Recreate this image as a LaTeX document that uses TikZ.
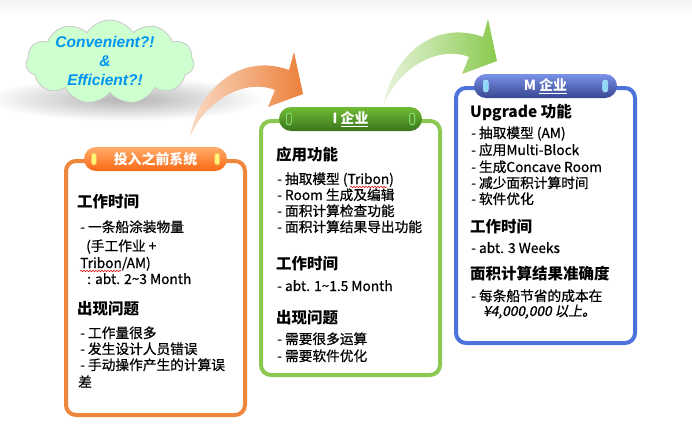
\documentclass[tikz,border=0pt]{standalone}
\usepackage{fontspec}
\newfontfamily\cjk{Noto Sans CJK SC}
\newfontfamily\cjkm[FakeBold=0.7]{Noto Sans CJK SC}
\newfontfamily\cjkit[FakeSlant=0.2,FakeBold=0.7]{Noto Sans CJK SC}
\setsansfont{Liberation Sans}
\usetikzlibrary{shapes.symbols,decorations.pathmorphing}
\definecolor{orangeB}{RGB}{238,134,60}
\definecolor{greenB}{RGB}{140,200,80}
\definecolor{blueB}{RGB}{78,114,219}
\definecolor{pillOt}{RGB}{255,172,105}
\definecolor{pillOb}{RGB}{250,105,20}
\definecolor{pillGt}{RGB}{112,188,52}
\definecolor{pillGb}{RGB}{58,118,30}
\definecolor{pillBt}{RGB}{122,146,232}
\definecolor{pillBb}{RGB}{55,70,145}
\definecolor{cloudG}{RGB}{206,255,206}
\definecolor{cloudT}{RGB}{0,150,240}
\definecolor{arrOl}{RGB}{250,218,195}
\definecolor{arrOr}{RGB}{236,128,58}
\definecolor{arrGl}{RGB}{232,244,220}
\definecolor{arrGr}{RGB}{138,202,78}
\tikzset{
  box/.style={draw, line width=4pt, rounded corners=10pt, fill=white, minimum width=179pt, inner sep=0pt},
  pill/.style={rounded corners=12pt, minimum width=143pt, minimum height=24pt, inner sep=0pt,
     text=white, font=\cjk\bfseries\fontsize{13.9}{16}\selectfont},
  tab/.style={rounded corners=2.5pt, minimum width=5pt, minimum height=12pt, inner sep=0pt, line width=0.6pt},
  head/.style={anchor=base west, inner sep=0pt, font=\cjk\bfseries\fontsize{15.5}{18}\selectfont},
  item/.style={anchor=base west, inner sep=0pt, font=\cjkm\fontsize{13.7}{16}\selectfont},
  squig/.style={draw=red!85!black, line width=0.5pt, decorate, decoration={snake, amplitude=0.8pt, segment length=3pt}},
}
\begin{document}
\begin{tikzpicture}[x=1pt,y=-1pt]
\useasboundingbox (0,0) rectangle (692,423);
\fill[white] (0,0) rectangle (692,423);
\shade[top color=black!5, bottom color=white] (0,0) rectangle (692,16);
% cloud shadow
\shade[inner color=black!30, outer color=white] (125,99) ellipse (140 and 22);
% cloud
\node[cloud, cloud puffs=11, cloud puff arc=115, aspect=2.1, minimum width=168pt, minimum height=84pt,
      fill=cloudG, draw=black!22, line width=0.8pt] (cloud) at (110,62) {};
\node[align=center, text=cloudT, font=\sffamily\bfseries\itshape\fontsize{15.5}{19}\selectfont, inner sep=0pt]
   (cloudtxt) at (105,61) {Convenient?!\\\&\\Efficient?!};
% orange curved arrow
\shade[left color=arrOl, right color=arrOr]
  (190,137) .. controls (198,90) and (240,52) .. (289,70) -- (294,52) -- (303,94) -- (268,107)
  -- (275,90) .. controls (245,78) and (205,100) .. (190,137) -- cycle;
% green curved arrow
\begin{scope}[shift={(194pt,33pt)}]
\shade[left color=arrGl, right color=arrGr]
  (190,137) .. controls (198,90) and (240,52) .. (289,70) -- (294,52) -- (303,94) -- (268,107)
  -- (275,90) .. controls (245,78) and (205,100) .. (190,137) -- cycle;
\end{scope}
% boxes
\node[box, draw=orangeB, minimum height=254pt] (box1) at (155.5,288) {};
\node[box, draw=greenB, minimum height=254pt] (box2) at (350.5,248) {};
\node[box, draw=blueB, minimum height=255pt] (box3) at (545.5,215.5) {};
% pills
\node[pill, top color=pillOt, bottom color=pillOb] (pill1) at (box1.north) {投入之前系统};
\node[pill, top color=pillGt, bottom color=pillGb] (pill2) at (box2.north) {I \underline{企业}};
\node[pill, top color=pillBt, bottom color=pillBb] (pill3) at (box3.north) {M \underline{企业}};
\node[tab, fill=yellow!55, draw=orange!60] (t1a) at ([xshift=10pt]pill1.west) {};
\node[tab, fill=yellow!55, draw=orange!60] (t1b) at ([xshift=-10pt]pill1.east) {};
\node[tab, fill=pillGt!80!black, draw=green!45!white] (t2a) at ([xshift=10pt]pill2.west) {};
\node[tab, fill=pillGt!80!black, draw=green!45!white] (t2b) at ([xshift=-10pt]pill2.east) {};
\node[tab, fill=cyan!45!white, draw=cyan!30!white] (t3a) at ([xshift=12pt]pill3.west) {};
\node[tab, fill=cyan!45!white, draw=cyan!30!white] (t3b) at ([xshift=-12pt]pill3.east) {};
% box 1 text
\node[head] (b1h1) at (77,207) {工作时间};
\node[item] (b1a) at (80,232) {- 一条船涂装物量};
\node[item] (b1b) at (86,251) {(手工作业 +};
\node[item] (b1c) at (80,268) {Tribon/AM)};
\node[item] (b1d) at (87,284) {: abt. 2\textasciitilde3 Month};
\node[head] (b1h2) at (77,314) {出现问题};
\node[item] (b1e) at (80,338) {- 工作量很多};
\node[item] (b1f) at (80,354) {- 发生设计人员错误};
\node[item] (b1g) at (80,370) {- 手动操作产生的计算误};
\node[item] (b1h) at (78,387) {差};
\path[squig] (80,271) -- (121,271);
% box 2 text
\node[head] (b2h1) at (276,160) {应用功能};
\node[item] (b2a) at (277,184) {- 抽取模型 (Tribon)};
\node[item] (b2b) at (277,200) {- Room 生成及编辑};
\node[item] (b2c) at (277,216) {- 面积计算检查功能};
\node[item] (b2d) at (277,232) {- 面积计算结果导出功能};
\node[head] (b2h2) at (276,269) {工作时间};
\node[item] (b2e) at (277,291) {- abt. 1\textasciitilde1.5 Month};
\node[head] (b2h3) at (276,323) {出现问题};
\node[item] (b2f) at (277,344) {- 需要很多运算};
\node[item] (b2g) at (277,361) {- 需要软件优化};
\path[squig] (350,187) -- (387,187);
% box 3 text
\node[head] (b3h1) at (470,117) {Upgrade 功能};
\node[item] (b3a) at (471,138) {- 抽取模型 (AM)};
\node[item] (b3b) at (471,155) {- 应用Multi-Block};
\node[item] (b3c) at (471,172) {- 生成Concave Room};
\node[item] (b3d) at (471,188) {- 减少面积计算时间};
\node[item] (b3e) at (471,204) {- 软件优化};
\node[head] (b3h2) at (470,232) {工作时间};
\node[item] (b3f) at (471,253) {- abt. 3 Weeks};
\node[head] (b3h3) at (470,279) {面积计算结果准确度};
\node[item] (b3g) at (471,301) {- 每条船节省的成本在};
\node[item, font=\cjkit\fontsize{13.7}{16}\selectfont] (b3i) at (483,316) {¥4,000,000 以上。};
\end{tikzpicture}
\end{document}
